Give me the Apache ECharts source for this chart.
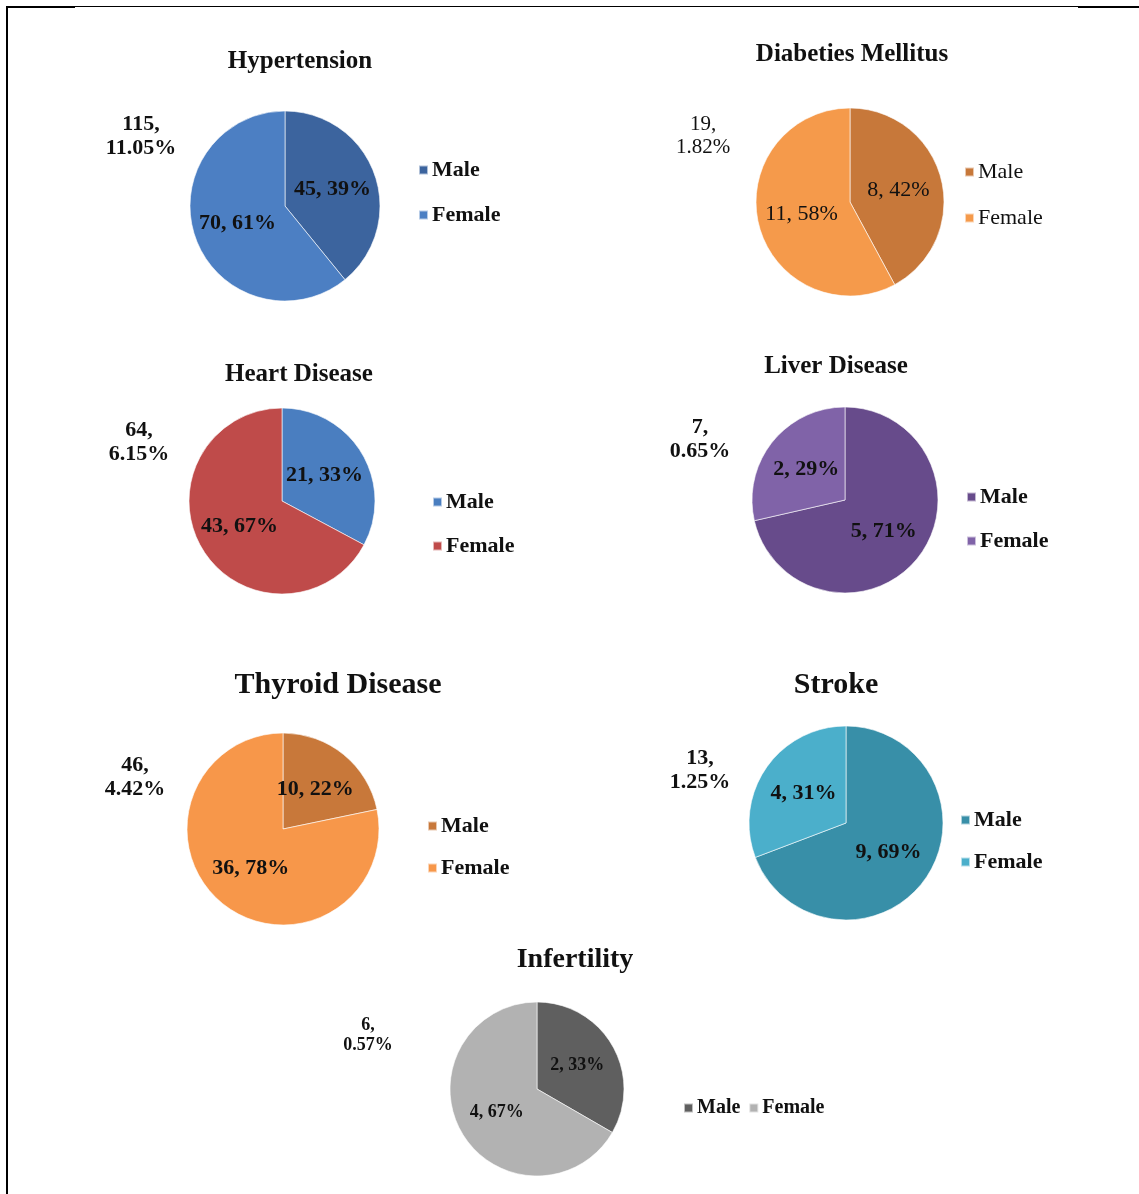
<!DOCTYPE html>
<html>
<head>
<meta charset="utf-8">
<script src="https://cdn.jsdelivr.net/npm/echarts@6/dist/echarts.min.js"></script>
<style>
html,body{margin:0;padding:0;background:#fff;}
#c{width:1139px;height:1194px;}
</style>
</head>
<body>
<div id="c"></div>
<script>
// ---- data ----
const titles = ['Hypertension', 'Diabeties Mellitus', 'Heart Disease', 'Liver Disease', 'Thyroid Disease', 'Stroke', 'Infertility'];
const categories = ['Male', 'Female'];
const maleCounts = [45, 8, 21, 5, 10, 9, 2];
const femaleCounts = [70, 11, 43, 2, 36, 4, 4];
const totals = [115, 19, 64, 7, 46, 13, 6];
const totalPct = ['11.05%', '1.82%', '6.15%', '0.65%', '4.42%', '1.25%', '0.57%'];

// ---- layout / style ----
const maleColors = ['#3C649E', '#C7783A', '#4A7EC0', '#674B8B', '#C8783A', '#388FA8', '#5F5F5F'];
const femaleColors = ['#4C7FC3', '#F59A4B', '#BF4B4A', '#8063A8', '#F7974A', '#4BAFCB', '#B2B2B2'];
const layouts = [
  {cx: 285, cy: 206, r: 95, t: [300, 62], ts: 25, tot: [141, 136], bold: true, lg: [418, 170, 215], fs: 22, ls: 22, lgs: 22},
  {cx: 850, cy: 202, r: 94, t: [852, 55], ts: 25, tot: [703, 136], bold: false, lg: [964, 172, 218], fs: 21, ls: 22, lgs: 22},
  {cx: 282, cy: 501, r: 93, t: [299, 375], ts: 25, tot: [139, 442], bold: true, lg: [432, 502, 546], fs: 22, ls: 22, lgs: 22},
  {cx: 845, cy: 500, r: 93, t: [836, 367], ts: 25, tot: [700, 439], bold: true, lg: [966, 497, 541], fs: 22, ls: 22, lgs: 22},
  {cx: 283, cy: 829, r: 96, t: [338, 685], ts: 30, tot: [135, 777], bold: true, lg: [427, 826, 868], fs: 22, ls: 22, lgs: 22},
  {cx: 846, cy: 823, r: 97, t: [836, 685], ts: 30, tot: [700, 770], bold: true, lg: [960, 820, 862], fs: 22, ls: 22, lgs: 22},
  {cx: 537, cy: 1089, r: 87, t: [575, 960], ts: 28, tot: [368, 1035], bold: true, lg: [683, 1108, null], fs: 18, ls: 18, lgs: 20, horiz: true}
];
const FONT = '"Liberation Serif", "Times New Roman", serif';

const chart = echarts.init(document.getElementById('c'));
const series = [], legends = [], graphics = [];

// frame
graphics.push({type: 'rect', shape: {x: 6, y: 6, width: 69, height: 2}, style: {fill: '#000'}, silent: true});
graphics.push({type: 'rect', shape: {x: 75, y: 6, width: 1003, height: 1}, style: {fill: '#000'}, silent: true});
graphics.push({type: 'rect', shape: {x: 1078, y: 6, width: 61, height: 2}, style: {fill: '#000'}, silent: true});
graphics.push({type: 'rect', shape: {x: 6, y: 6, width: 2, height: 1188}, style: {fill: '#000'}, silent: true});

titles.forEach((t, i) => {
  const L = layouts[i];
  const w = L.bold ? 'bold' : 'normal';
  const values = [maleCounts[i], femaleCounts[i]];
  const colors = [maleColors[i], femaleColors[i]];
  series.push({
    type: 'pie',
    center: [L.cx, L.cy],
    radius: L.r,
    startAngle: 90,
    clockwise: true,
    animation: false,
    avoidLabelOverlap: false,
    emphasis: {disabled: true},
    itemStyle: {borderColor: 'rgba(255,255,255,0.6)', borderWidth: 1},
    label: {
      show: true,
      position: 'inside',
      fontFamily: FONT,
      fontSize: L.ls,
      fontWeight: w,
      color: '#111',
      formatter: p => p.value + ', ' + Math.round(p.percent) + '%'
    },
    labelLine: {show: false},
    data: categories.map((c, k) => ({name: t + '|' + c, value: values[k], itemStyle: {color: colors[k]}}))
  });
  // title
  graphics.push({type: 'text', x: L.t[0], y: L.t[1], silent: true,
    style: {text: t, align: 'center', verticalAlign: 'middle', fontFamily: FONT, fontSize: L.ts, fontWeight: 'bold', fill: '#111'}});
  // total label
  graphics.push({type: 'text', x: L.tot[0], y: L.tot[1], silent: true,
    style: {text: totals[i] + ',\n' + totalPct[i], align: 'center', verticalAlign: 'middle',
      fontFamily: FONT, fontSize: L.fs, lineHeight: L.fs + 2, fontWeight: w, fill: '#111'}});
  // legend
  const lh = L.lgs;
  legends.push({
    orient: L.horiz ? 'horizontal' : 'vertical',
    left: L.lg[0],
    top: L.lg[1] - lh / 2,
    itemWidth: 9,
    itemHeight: 9,
    icon: 'rect',
    padding: 0,
    selectedMode: false,
    itemGap: L.horiz ? 8 : (L.lg[2] - L.lg[1] - lh),
    textStyle: {fontFamily: FONT, fontSize: L.lgs, fontWeight: w, color: '#111', lineHeight: lh, padding: [0, 0, 0, -1]},
    formatter: n => n.split('|')[1],
    data: categories.map(c => t + '|' + c)
  });
});

chart.setOption({
  animation: false,
  backgroundColor: '#fff',
  legend: legends,
  series: series,
  graphic: {elements: graphics}
});
</script>
</body>
</html>
